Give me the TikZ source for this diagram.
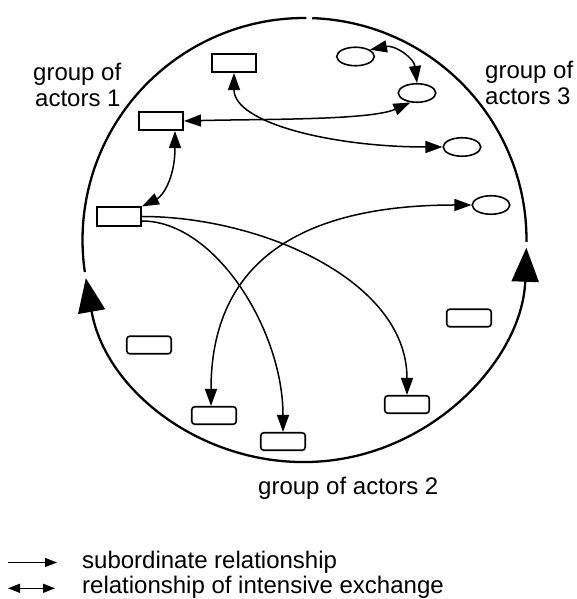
\documentclass[tikz,border=0pt]{standalone}
\usepackage{fontspec}
\setmainfont{Liberation Sans}
\usetikzlibrary{arrows.meta,shapes.geometric}
\begin{document}
\begin{tikzpicture}[x=1pt,y=1pt,
  actorbox/.style={draw, line width=1.6pt, minimum width=44.5pt, minimum height=18.5pt, inner sep=0pt},
  actoroval/.style={draw, ellipse, line width=1.6pt, minimum width=37.5pt, minimum height=18.5pt, inner sep=0pt},
  actorround/.style={draw, rounded corners=3pt, line width=1.6pt, minimum width=44.5pt, minimum height=17.5pt, inner sep=0pt},
  conn/.style={line width=1.5pt},
  sub/.style={conn, -{Triangle[length=17pt,width=12pt]}},
  dbl/.style={conn, {Triangle[length=17pt,width=12pt]}-{Triangle[length=17pt,width=12pt]}},
  lbl/.style={anchor=base west, inner sep=0pt, font=\fontsize{24}{26}\selectfont},
  rim/.style={line width=2.3pt},
  bigtip/.style={{Triangle[length=34pt,width=27pt]}-{Triangle[length=34pt,width=27pt]}}
]
\useasboundingbox (0,0) rectangle (576,599);

% rim of the circle
\coordinate (O) at (304.5,359);
\draw[rim] ([shift={(89.5:222)}]O) arc[start angle=89.5, end angle=188.3, radius=222];
\draw[rim] ([shift={(88:222)}]O) arc[start angle=88, end angle=-0.5, radius=222];
\draw[rim, bigtip] ([shift={(189.9:222)}]O) arc[start angle=189.9, end angle=358, radius=222];

% group of actors 1
\node[actorbox] (R1) at (234,536) {};
\node[actorbox] (R2) at (161,478) {};
\node[actorbox] (R3) at (119,382.5) {};
% group of actors 3
\node[actoroval] (E1) at (355.5,542.5) {};
\node[actoroval] (E2) at (417,506) {};
\node[actoroval] (E3) at (462,452) {};
\node[actoroval] (E4) at (491,394) {};
% group of actors 2
\node[actorround] (RR1) at (149,254) {};
\node[actorround] (RR2) at (214,183.5) {};
\node[actorround] (RR3) at (283,157.5) {};
\node[actorround] (RR4) at (469,281) {};
\node[actorround] (RR5) at (407,194.5) {};

% connectors
\draw[dbl] (R2.east) .. controls +(76,2) and +(-40,-18) .. (E2.-125);
\draw[dbl] (R1.south) .. controls +(0,-50) and +(-110,0) .. (E3.west);
\draw[dbl] ([xshift=14pt]R2.south) .. controls +(0,-48) and +(20,10) .. (R3.north east);
\draw[dbl] (E1.25) .. controls +(25,5) and +(-3,25) .. (E2.north);
\draw[sub] ([yshift=-4.5pt]R3.east) .. controls +(73,0) and +(0,102) .. (RR3.north);
\draw[sub] (R3.east) .. controls +(118,0) and +(0,115) .. (RR5.north);
\draw[dbl] ([xshift=-3pt]RR2.north) .. controls +(0,144) and +(-171,0) .. (E4.west);

% group labels
\node[lbl] (g1a) at (33,518) {group of};
\node[lbl] (g1b) at (35,492) {actors 1};
\node[lbl] (g3a) at (485,520) {group of};
\node[lbl] (g3b) at (485,494) {actors 3};
\node[lbl] (g2) at (258,104) {group of actors 2};

% legend
\coordinate (l1a) at (8,36.5);
\coordinate (l1b) at (57,36.5);
\coordinate (l2a) at (8,10.7);
\coordinate (l2b) at (55,10.7);
\draw[line width=1.5pt, -{Triangle[length=12pt,width=9pt]}] (l1a) -- (l1b);
\draw[line width=1.5pt, {Triangle[length=12pt,width=9pt]}-{Triangle[length=12pt,width=9pt]}] (l2a) -- (l2b);
\node[lbl] (t1) at (82,30.7) {subordinate relationship};
\node[lbl] (t2) at (82,5.7) {relationship of intensive exchange};
\end{tikzpicture}
\end{document}
